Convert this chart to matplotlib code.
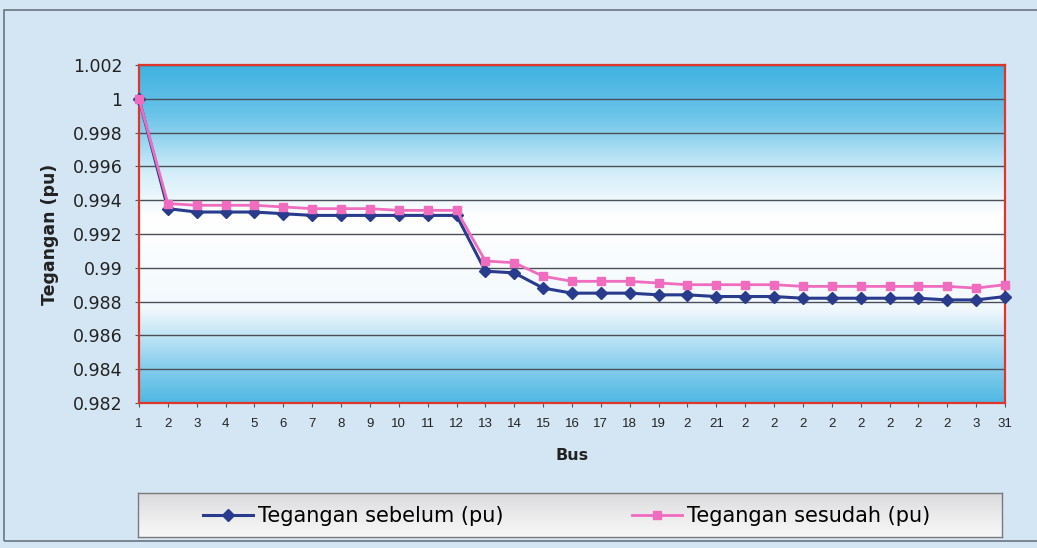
import matplotlib.pyplot as plt
import numpy as np
from matplotlib.colors import LinearSegmentedColormap
from matplotlib.patches import Rectangle

# Tegangan tiap bus sebelum dan sesudah
bus = list(range(1, 32))
label_bus = ['1', '2', '3', '4', '5', '6', '7', '8', '9', '10', '11', '12', '13', '14',
             '15', '16', '17', '18', '19', '2', '21', '2', '2', '2', '2', '2', '2', '2',
             '2', '3', '31']
tegangan_sebelum = [1.0000, 0.9935, 0.9933, 0.9933, 0.9933, 0.9932, 0.9931, 0.9931,
                    0.9931, 0.9931, 0.9931, 0.9931, 0.9898, 0.9897, 0.9888, 0.9885,
                    0.9885, 0.9885, 0.9884, 0.9884, 0.9883, 0.9883, 0.9883, 0.9882,
                    0.9882, 0.9882, 0.9882, 0.9882, 0.9881, 0.9881, 0.9883]
tegangan_sesudah = [1.0000, 0.9938, 0.9937, 0.9937, 0.9937, 0.9936, 0.9935, 0.9935,
                    0.9935, 0.9934, 0.9934, 0.9934, 0.9904, 0.9903, 0.9895, 0.9892,
                    0.9892, 0.9892, 0.9891, 0.9890, 0.9890, 0.9890, 0.9890, 0.9889,
                    0.9889, 0.9889, 0.9889, 0.9889, 0.9889, 0.9888, 0.9890]
yticks = [0.982, 0.984, 0.986, 0.988, 0.99, 0.992, 0.994, 0.996, 0.998, 1, 1.002]
ytick_labels = ['0.982', '0.984', '0.986', '0.988', '0.99', '0.992', '0.994', '0.996',
                '0.998', '1', '1.002']

plt.rcParams['font.family'] = ['DejaVu Sans']

W, H = 1037, 548
fig = plt.figure(figsize=(W / 100, H / 100), dpi=100)
fig.patch.set_facecolor('#d4e6f4')
# bingkai luar chart (sisi kanan terpotong)
fig.patches.append(Rectangle((4 / W, 7 / H), 1.05, 1 - 17 / H,
                             transform=fig.transFigure, fill=False,
                             edgecolor='#6a7480', lw=1.2, zorder=0))

ax = fig.add_axes([139 / W, 1 - 403 / H, 866 / W, 338 / H])

# latar plot: biru di atas dan bawah, putih di tengah
biru_putih = LinearSegmentedColormap.from_list(
    'bp', [(0.0, '#4fb8e4'), (0.12, '#8fd1ee'), (0.28, '#f2f9fd'),
           (0.55, '#ffffff'), (0.68, '#d4eef9'), (0.85, '#6cc4e9'), (1.0, '#3fb2e1')])
grad = np.linspace(0, 1, 256).reshape(-1, 1)
ax.imshow(grad, aspect='auto', cmap=biru_putih, origin='lower',
          extent=[0, 1, 0, 1], transform=ax.transAxes, zorder=0)

for y in yticks:
    ax.axhline(y, color='#4a4f58', lw=1.0, zorder=1)

garis_sebelum, = ax.plot(bus, tegangan_sebelum, color='#283b8c', lw=2.2, marker='D',
                         markersize=6, label='Tegangan sebelum (pu)', zorder=3, clip_on=False)
garis_sesudah, = ax.plot(bus, tegangan_sesudah, color='#f06cbf', lw=2.0, marker='s',
                         markersize=6, label='Tegangan sesudah (pu)', zorder=4, clip_on=False)

ax.set_xlim(1, 31)
ax.set_ylim(0.982, 1.002)
ax.set_xticks(bus)
ax.set_xticklabels(label_bus, fontsize=9.5, family=['Liberation Sans', 'DejaVu Sans'],
                   color='#222222')
ax.set_yticks(yticks)
ax.set_yticklabels(ytick_labels, fontsize=12.5, color='#222222')
ax.tick_params(axis='x', length=3, color='#555555', pad=8)
ax.tick_params(axis='y', length=3, color='#555555', pad=9)
for s in ax.spines.values():
    s.set_color('#e0352b')
    s.set_linewidth(1.6)

ax.set_xlabel('Bus', fontsize=11.5, fontweight='bold', labelpad=13, color='#222222')
ax.set_ylabel('Tegangan (pu)', fontsize=12.5, fontweight='bold', labelpad=10, color='#222222')

# kotak legenda dengan gradasi abu-abu
ax_leg = fig.add_axes([138 / W, 1 - 537 / H, 864 / W, 44 / H])
abu = LinearSegmentedColormap.from_list('abu', ['#f8f8f8', '#ebebec', '#dadadd'])
ax_leg.imshow(grad, aspect='auto', cmap=abu, origin='lower', extent=[0, 1, 0, 1])
ax_leg.set_xticks([])
ax_leg.set_yticks([])
for s in ax_leg.spines.values():
    s.set_color('#7a7a7a')
    s.set_linewidth(1.0)

for garis, x0 in [(garis_sebelum, 203), (garis_sesudah, 632)]:
    fig.legend(handles=[garis], loc='center left', bbox_to_anchor=(x0 / W, 1 - 516 / H),
               fontsize=15, handlelength=2.4, handletextpad=0.25, borderpad=0,
               borderaxespad=0, frameon=False)

fig.savefig('out.png', dpi=100, facecolor=fig.get_facecolor())
